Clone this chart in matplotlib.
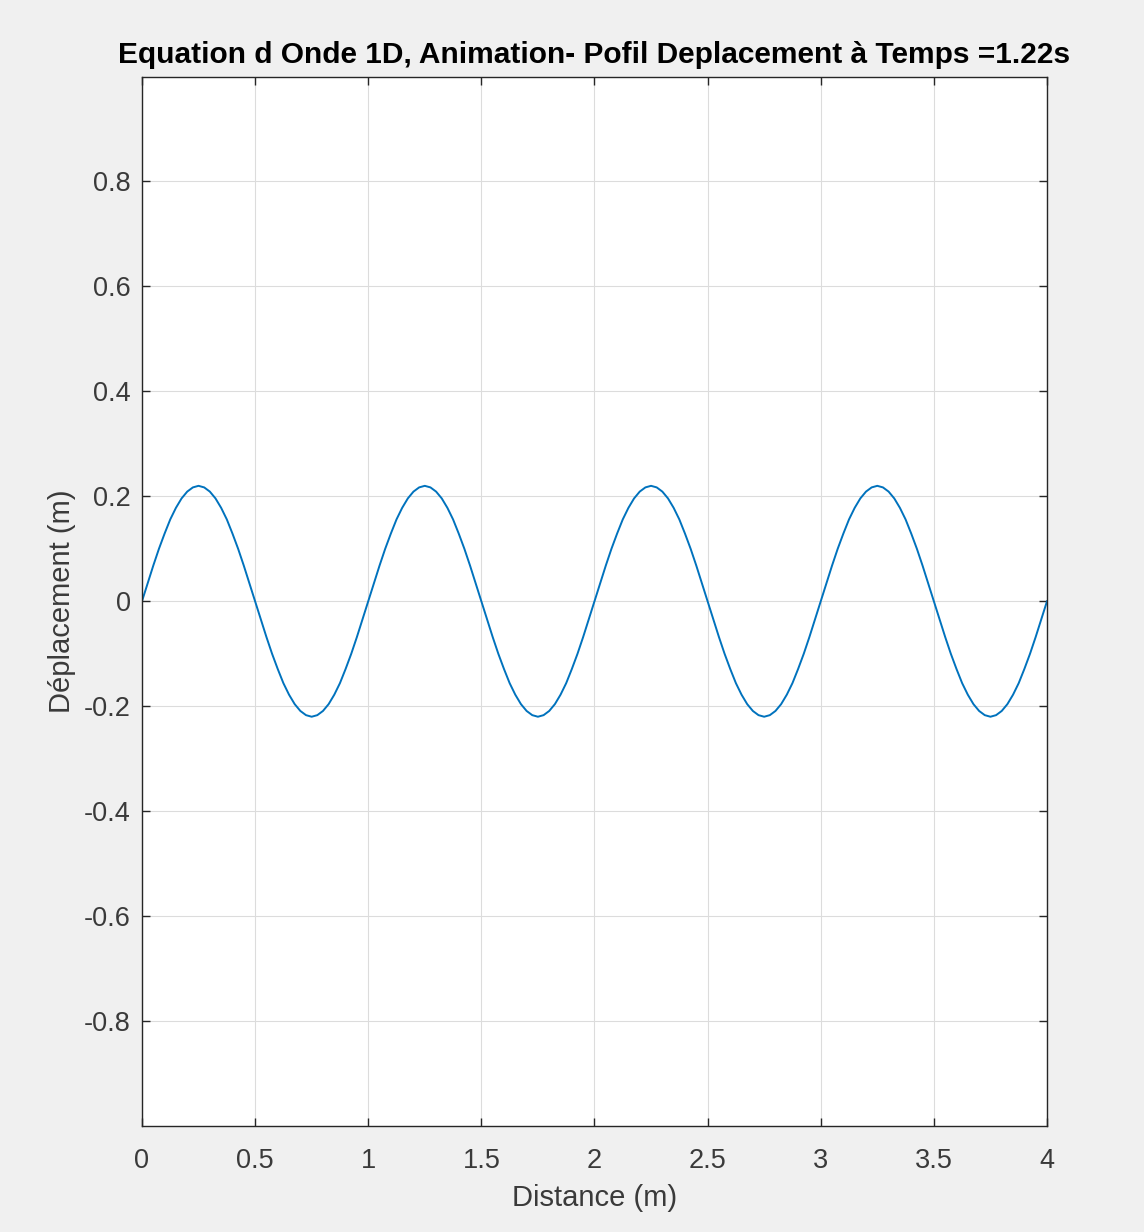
import numpy as np
import matplotlib
matplotlib.use("Agg")
import matplotlib.pyplot as plt

plt.rcParams['font.family'] = ['Liberation Sans', 'DejaVu Sans']

# Displacement profile sampled every 0.025 m along the string
distance = np.arange(0, 161) * 0.025
one_period = [0.000, 0.034, 0.068, 0.100, 0.129, 0.156, 0.178, 0.196, 0.209, 0.217,
              0.220, 0.217, 0.209, 0.196, 0.178, 0.156, 0.129, 0.100, 0.068, 0.034,
              0.000, -0.034, -0.068, -0.100, -0.129, -0.156, -0.178, -0.196, -0.209, -0.217,
              -0.220, -0.217, -0.209, -0.196, -0.178, -0.156, -0.129, -0.100, -0.068, -0.034]
displacement = one_period * 4 + [0.000]

x_ticks = [0, 0.5, 1, 1.5, 2, 2.5, 3, 3.5, 4]
x_labels = ['0', '0.5', '1', '1.5', '2', '2.5', '3', '3.5', '4']
y_ticks = [-0.8, -0.6, -0.4, -0.2, 0, 0.2, 0.4, 0.6, 0.8]
y_labels = ['-0.8', '-0.6', '-0.4', '-0.2', '0', '0.2', '0.4', '0.6', '0.8']

fig = plt.figure(figsize=(11.44, 12.32), dpi=100, facecolor='#f0f0f0')
ax = fig.add_axes([0.1241, 0.0860, 0.9152 - 0.1241, 0.9379 - 0.0860])
ax.set_facecolor('white')

ax.plot(distance, displacement, color='#0072BD', linewidth=1.4)

ax.set_xlim(0, 4)
ax.set_ylim(-1, 1)
ax.set_xticks(x_ticks)
ax.set_xticklabels(x_labels)
ax.set_yticks(y_ticks)
ax.set_yticklabels(y_labels)

ax.grid(True, color='#dcdcdc', linewidth=0.8)
ax.set_axisbelow(True)
for s in ax.spines.values():
    s.set_color('#262626')
    s.set_linewidth(1.0)
ax.tick_params(direction='in', length=6, width=1.0, color='#262626',
               labelcolor='#3a3a3a', labelsize=19.5, top=True, right=True)
ax.tick_params(axis='x', pad=16)
ax.tick_params(axis='y', pad=8)

ax.set_xlabel('Distance (m)', fontsize=21, color='#3a3a3a', labelpad=7)
ax.set_ylabel('Déplacement (m)', fontsize=21, color='#3a3a3a', labelpad=6)
ax.set_title('Equation d Onde 1D, Animation- Pofil Deplacement à Temps =1.22s',
             fontsize=21.5, fontweight='bold', color='black', pad=10)

fig.savefig('out.png', dpi=100, facecolor=fig.get_facecolor())
